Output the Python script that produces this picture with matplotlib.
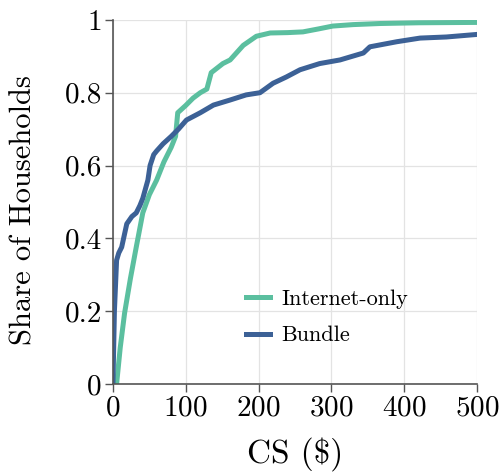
import matplotlib
matplotlib.use("Agg")
from matplotlib import pyplot as plt

plt.rcParams['font.family'] = 'serif'
plt.rcParams['font.serif'] = ['cmr10']
plt.rcParams['mathtext.fontset'] = 'cm'
plt.rcParams['axes.formatter.use_mathtext'] = True

# CDF of consumer surplus
internet_cs = [0, 5, 10, 16, 24, 32, 41, 50, 60, 70, 80, 86, 89, 100, 110, 120,
               129, 135, 151, 161, 179, 197, 216, 240, 261, 282, 302, 330, 367, 420, 500]
internet_share = [0.0, 0.0, 0.1, 0.195, 0.29, 0.376, 0.47, 0.52, 0.56, 0.61, 0.65, 0.68, 0.745,
                  0.765, 0.785, 0.80, 0.81, 0.855, 0.88, 0.89, 0.93, 0.955, 0.964, 0.965,
                  0.967, 0.975, 0.983, 0.987, 0.99, 0.992, 0.993]

bundle_cs = [0, 2, 5, 8, 12, 19, 26, 32, 37, 41, 48, 51, 56, 60, 69, 80, 90, 101, 120,
             138, 161, 183, 202, 220, 238, 257, 284, 312, 344, 353, 390, 422, 458, 500]
bundle_share = [0.0, 0.2, 0.34, 0.36, 0.376, 0.44, 0.46, 0.47, 0.49, 0.51, 0.56, 0.60, 0.63,
                0.64, 0.66, 0.68, 0.70, 0.725, 0.745, 0.766, 0.78, 0.794, 0.80, 0.826,
                0.843, 0.863, 0.88, 0.89, 0.909, 0.926, 0.94, 0.95, 0.953, 0.96]

x_ticks = [0, 100, 200, 300, 400, 500]
y_ticks = [0, 0.2, 0.4, 0.6, 0.8, 1]
y_tick_labels = ['0', '0.2', '0.4', '0.6', '0.8', '1']

fig = plt.figure(figsize=(5.02, 4.73), dpi=100)
ax = fig.add_axes([0.225, 0.188, 0.725, 0.770])

ax.plot(internet_cs, internet_share, color='#5bbf9f', lw=3.6, label='Internet-only',
        solid_joinstyle='round')
ax.plot(bundle_cs, bundle_share, color='#3c6196', lw=3.6, label='Bundle',
        solid_joinstyle='round')

ax.set_xlim(0, 500)
ax.set_ylim(0, 1)
ax.set_xticks(x_ticks)
ax.set_yticks(y_ticks)
ax.set_yticklabels(y_tick_labels)
ax.grid(True, color='#e3e3e3', lw=0.9)
ax.set_axisbelow(True)

for side in ['top', 'right']:
    ax.spines[side].set_visible(False)
for side in ['left', 'bottom']:
    ax.spines[side].set_color('#555555')
    ax.spines[side].set_linewidth(1.2)
ax.tick_params(axis='both', direction='out', length=6, width=1, color='#555555',
               labelsize=21, pad=2)

ax.set_xlabel(r'CS (\$)', fontsize=24, labelpad=11)
ax.set_ylabel('Share of Households', fontsize=22)
ax.yaxis.set_label_coords(-0.208, 0.478)

ax.legend(loc='upper left', bbox_to_anchor=(0.335, 0.29), frameon=False, fontsize=16,
          handlelength=1.1, handletextpad=0.5, labelspacing=0.75, borderpad=0)

fig.savefig('out.png', dpi=100)
